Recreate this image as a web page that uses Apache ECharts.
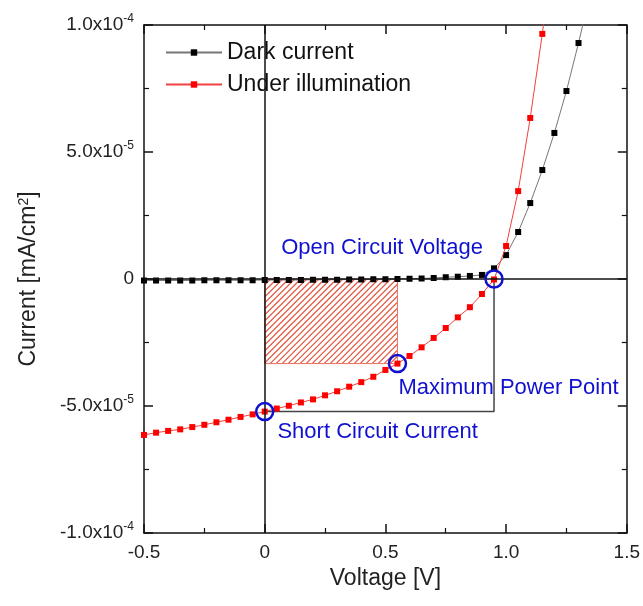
<!DOCTYPE html>
<html>
<head>
<meta charset="utf-8">
<script src="https://cdn.jsdelivr.net/npm/echarts@6/dist/echarts.min.js"></script>
<style>
  html, body { margin: 0; padding: 0; background: #fff; }
  #main { width: 643px; height: 606px; }
</style>
</head>
<body>
<div id="main"></div>
<script>
// current values are in units of 1e-5 mA/cm2
const voltage = [-0.5, -0.45, -0.4, -0.35, -0.3, -0.25, -0.2, -0.15, -0.1, -0.05,
  0, 0.05, 0.1, 0.15, 0.2, 0.25, 0.3, 0.35, 0.4, 0.45,
  0.5, 0.55, 0.6, 0.65, 0.7, 0.75, 0.8, 0.85, 0.9, 0.95,
  1.0, 1.05, 1.1, 1.15, 1.2, 1.25, 1.3, 1.35];
const darkCurrent = [-0.06, -0.06, -0.06, -0.06, -0.06, -0.05, -0.05, -0.05, -0.05, -0.05,
  -0.04, -0.04, -0.04, -0.04, -0.03, -0.03, -0.03, -0.02, -0.02, -0.01,
  -0.01, 0.0, 0.01, 0.02, 0.04, 0.07, 0.09, 0.12, 0.16, 0.42,
  0.94, 1.85, 2.99, 4.29, 5.75, 7.40, 9.29, 11.3];
const lightCurrent = [-6.14, -6.05, -5.98, -5.92, -5.83, -5.74, -5.64, -5.54, -5.43, -5.33,
  -5.22, -5.10, -4.99, -4.86, -4.74, -4.58, -4.42, -4.24, -4.06, -3.85,
  -3.58, -3.33, -3.03, -2.69, -2.32, -1.93, -1.51, -1.11, -0.59, -0.02,
  1.30, 3.46, 6.34, 9.65, 13.2];

// key points: [V, J]
const scPoint = [0, -5.22];
const mppPoint = [0.55, -3.33];
const ocPoint = [0.95, 0];
const pointNames = ['Short Circuit Current', 'Maximum Power Point', 'Open Circuit Voltage'];

const xTicks = { min: -0.5, max: 1.5, interval: 0.5 };
const yTicks = { min: -10, max: 10, interval: 5 };

const FONT = 'Liberation Sans, Arial, sans-serif';
const BLUE = '#1010d0';
const HATCH = '#e4553f';

function zip(xs, ys) {
  return ys.map((y, i) => [xs[i], y]);
}

function yLabel(v) {
  if (Math.abs(v) < 1e-9) return '{m|0}';
  const real = v * 1e-5;
  const e = Math.floor(Math.log10(Math.abs(real)) + 1e-9);
  const m = (real / Math.pow(10, e)).toFixed(1);
  return '{m|' + m + 'x10}{s|' + e + '}';
}

function xLabel(v) {
  if (Math.abs(v) < 1e-9) return '0';
  return v.toFixed(1);
}

const axisCommon = {
  axisLine: { onZero: false, lineStyle: { color: '#111', width: 1.5 } },
  axisTick: { inside: true, length: 9, lineStyle: { color: '#111', width: 1.5 } },
  minorTick: { show: true, splitNumber: 2, length: 5, lineStyle: { color: '#111', width: 1.2 } },
  splitLine: { show: false }
};

// hatched rectangle: diagonal lines clipped to the rect
function renderHatch(params, api) {
  const p0 = api.coord([api.value(0), api.value(1)]);
  const p1 = api.coord([api.value(2), api.value(3)]);
  const x = Math.min(p0[0], p1[0]), y = Math.min(p0[1], p1[1]);
  const w = Math.abs(p1[0] - p0[0]), h = Math.abs(p1[1] - p0[1]);
  const step = 6;
  const lines = [];
  for (let k = x - h; k < x + w; k += step) {
    lines.push({
      type: 'line',
      shape: { x1: k, y1: y + h, x2: k + h, y2: y },
      style: { stroke: HATCH, lineWidth: 1.2 }
    });
  }
  return {
    type: 'group',
    children: [
      {
        type: 'group',
        clipPath: { type: 'rect', shape: { x: x, y: y, width: w, height: h } },
        children: lines
      },
      {
        type: 'rect',
        shape: { x: x, y: y, width: w, height: h },
        style: { fill: 'none', stroke: '#ec7060', lineWidth: 1 }
      }
    ]
  };
}

const chart = echarts.init(document.getElementById('main'));

chart.setOption({
  animation: false,
  backgroundColor: '#fff',
  textStyle: { fontFamily: FONT },
  grid: { left: 144, right: 15, top: 25, bottom: 73 },
  legend: {
    orient: 'vertical',
    left: 160,
    top: 36,
    itemWidth: 56,
    itemHeight: 8,
    itemGap: 9,
    data: ['Dark current', 'Under illumination'],
    textStyle: { fontSize: 23, color: '#111', fontFamily: FONT }
  },
  xAxis: [
    Object.assign({
      type: 'value', position: 'bottom',
      min: xTicks.min, max: xTicks.max, interval: xTicks.interval,
      name: 'Voltage [V]', nameLocation: 'middle', nameGap: 34,
      nameTextStyle: { fontSize: 23, color: '#222', fontFamily: FONT },
      axisLabel: { formatter: xLabel, fontSize: 19, color: '#222', margin: 10, fontFamily: FONT }
    }, axisCommon),
    Object.assign({
      type: 'value', position: 'top',
      min: xTicks.min, max: xTicks.max, interval: xTicks.interval,
      axisLabel: { show: false }
    }, axisCommon)
  ],
  yAxis: [
    Object.assign({
      type: 'value', position: 'left',
      min: yTicks.min, max: yTicks.max, interval: yTicks.interval,
      name: 'Current [mA/cm{s|2}]', nameLocation: 'middle', nameGap: 104,
      nameTextStyle: {
        fontSize: 23, color: '#222', fontFamily: FONT,
        rich: { s: { fontSize: 14, verticalAlign: 'top', lineHeight: 14, fontFamily: FONT, color: '#222' } }
      },
      axisLabel: {
        formatter: yLabel, margin: 10,
        rich: {
          m: { fontSize: 19, color: '#222', lineHeight: 24, fontFamily: FONT },
          s: { fontSize: 12, color: '#222', verticalAlign: 'top', lineHeight: 12, fontFamily: FONT }
        }
      }
    }, axisCommon),
    Object.assign({
      type: 'value', position: 'right',
      min: yTicks.min, max: yTicks.max, interval: yTicks.interval,
      axisLabel: { show: false }
    }, axisCommon)
  ],
  series: [
    {
      name: 'power',
      type: 'custom',
      silent: true,
      data: [[0, 0, mppPoint[0], mppPoint[1]]],
      renderItem: renderHatch,
      z: 1
    },
    {
      name: 'box',
      type: 'line',
      data: [scPoint, [ocPoint[0], scPoint[1]], ocPoint],
      symbol: 'none',
      silent: true,
      lineStyle: { color: '#444', width: 1.5 },
      markLine: {
        silent: true,
        symbol: 'none',
        label: { show: false },
        lineStyle: { color: '#111', width: 1.5, type: 'solid' },
        data: [{ xAxis: 0 }, { yAxis: 0 }]
      },
      z: 2
    },
    {
      name: 'Dark current',
      type: 'line',
      data: zip(voltage, darkCurrent),
      symbol: 'rect',
      symbolSize: 6,
      itemStyle: { color: '#000' },
      lineStyle: { color: '#777', width: 1 },
      z: 3
    },
    {
      name: 'Under illumination',
      type: 'line',
      data: zip(voltage, lightCurrent),
      symbol: 'rect',
      symbolSize: 6,
      itemStyle: { color: '#f00' },
      lineStyle: { color: '#f24040', width: 1 },
      z: 4
    },
    {
      name: 'points',
      type: 'scatter',
      silent: true,
      symbol: 'circle',
      symbolSize: 17,
      itemStyle: { color: 'rgba(0,0,0,0)', borderColor: BLUE, borderWidth: 2.5, opacity: 1 },
      label: {
        show: true,
        position: 'inside',
        formatter: p => p.name,
        fontSize: 22,
        color: BLUE,
        fontFamily: FONT
      },
      data: [
        { name: pointNames[0], value: scPoint, label: { offset: [113, 20] } },
        { name: pointNames[1], value: mppPoint, label: { offset: [111, 24] } },
        { name: pointNames[2], value: ocPoint, label: { offset: [-112, -31] } }
      ],
      z: 5
    }
  ]
});
</script>
</body>
</html>
